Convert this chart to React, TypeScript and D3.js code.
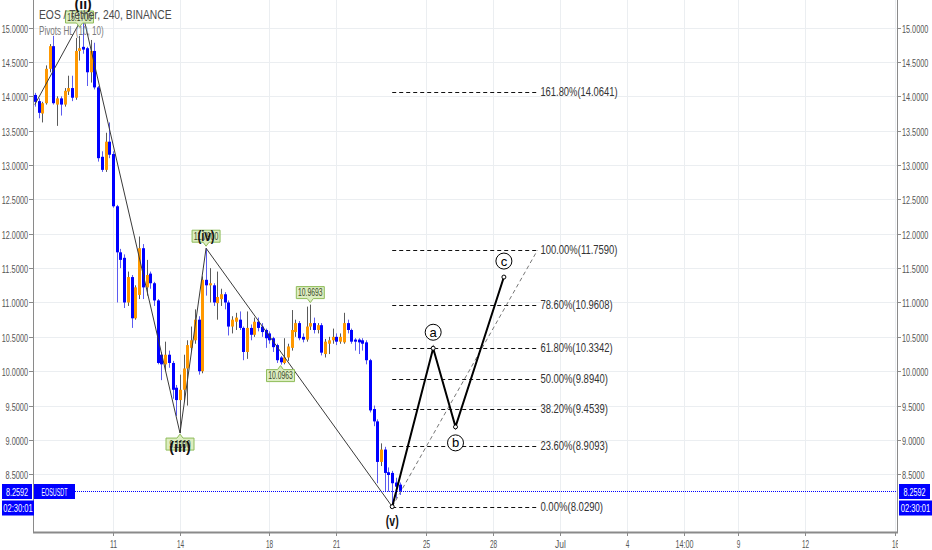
import React, { useRef, useEffect } from "react";
import * as d3 from "d3";

// 4h candles, first one opens 7 Jun 2018 12:00 UTC
const firstCandle = Date.UTC(2018, 5, 7, 12);
const candleMs = 4 * 3600 * 1000;

const opens = [
  14.02, 13.93, 13.75, 13.9, 14.4, 14.73, 13.88, 13.97, 13.88, 14.07,
  14.12, 13.98, 14.66, 14.72, 14.7, 14.35, 14.66, 14.13, 13.12, 12.93,
  13.34, 13.16, 12.4, 11.73, 11.65, 11.0, 11.37, 10.77, 11.11, 11.79,
  11.22, 11.42, 11.28, 11.03, 10.24, 10.1, 10.24, 10.12, 9.76, 9.58,
  9.73, 10.04, 10.34, 10.45, 10.75, 10.0, 11.33, 11.25, 11.25, 10.99,
  11.05, 11.12, 11.0, 10.65, 10.72, 10.75, 10.63, 10.28, 10.63, 10.53,
  10.72, 10.65, 10.6, 10.55, 10.48, 10.38, 10.2, 10.12, 10.2, 10.34,
  10.57, 10.7, 10.5, 10.46, 10.65, 10.7, 10.6, 10.67, 10.25, 10.4,
  10.45, 10.5, 10.43, 10.42, 10.7, 10.6, 10.46, 10.46, 10.45, 10.42,
  10.16, 9.45, 9.27, 8.68, 8.86, 8.53, 8.52, 8.38, 8.35,
];
const highs = [
  14.05, 13.97, 13.92, 14.45, 14.76, 14.88, 14.0, 14.0, 14.12, 14.3,
  14.3, 14.85, 14.88, 15.17, 14.72, 14.82, 14.78, 14.15, 13.2, 13.47,
  13.62, 13.2, 12.42, 11.78, 11.7, 11.45, 11.4, 11.25, 11.96, 11.85,
  11.62, 11.45, 11.3, 11.05, 10.28, 10.43, 10.3, 10.15, 9.8, 9.95,
  10.24, 10.45, 10.65, 10.9, 10.8, 11.38, 11.79, 11.5, 11.28, 11.45,
  11.2, 11.15, 11.03, 10.8, 10.85, 10.87, 10.65, 10.87, 10.68, 10.78,
  10.78, 10.7, 10.62, 10.58, 10.5, 10.4, 10.22, 10.48, 10.4, 10.89,
  10.75, 10.73, 10.55, 10.94, 10.9693, 10.78, 10.7, 10.7, 10.47, 10.5,
  10.62, 10.55, 10.55, 10.85, 10.75, 10.62, 10.48, 10.48, 10.48, 10.45,
  10.18, 9.5, 9.3, 8.95, 8.9, 8.6, 8.55, 8.45, 8.38,
];
const lows = [
  13.85, 13.68, 13.62, 13.88, 14.35, 13.88, 13.57, 13.72, 13.85, 14.02,
  13.93, 13.95, 14.52, 14.62, 14.15, 14.2, 14.1, 13.05, 12.9, 12.9,
  13.1, 12.38, 11.0, 11.5, 10.92, 10.95, 10.63, 10.75, 11.05, 11.05,
  11.1, 11.2, 10.95, 10.1, 9.87, 10.0, 10.05, 9.6, 9.35, 9.1,
  9.55, 9.5, 10.3, 10.4, 9.95, 9.97, 11.1, 11.0, 10.95, 10.75,
  10.95, 10.9, 10.52, 10.55, 10.6, 10.6, 10.16, 10.18, 10.45, 10.5,
  10.58, 10.5, 10.34, 10.4, 10.28, 10.12, 10.0963, 10.1, 10.15, 10.3,
  10.5, 10.45, 10.42, 10.43, 10.6, 10.55, 10.55, 10.23, 10.2, 10.25,
  10.4, 10.38, 10.4, 10.4, 10.55, 10.4, 10.3, 10.25, 10.3, 10.1,
  9.4, 9.2, 8.37, 8.62, 8.25, 8.25, 8.029, 8.15, 8.2,
];
const closes = [
  13.92, 13.76, 13.9, 14.4, 14.73, 13.9, 13.97, 13.88, 14.08, 14.12,
  13.98, 14.66, 14.7, 14.68, 14.35, 14.66, 14.13, 13.1, 12.93, 13.34,
  13.15, 12.4, 11.73, 11.62, 11.0, 11.37, 10.77, 11.22, 11.79, 11.22,
  11.4, 11.28, 11.03, 10.12, 10.1, 10.24, 10.12, 9.73, 9.58, 9.73,
  10.04, 10.38, 10.45, 10.75, 10.0, 11.33, 11.25, 11.28, 11.0, 11.08,
  11.12, 11.0, 10.65, 10.75, 10.78, 10.63, 10.28, 10.63, 10.53, 10.72,
  10.63, 10.57, 10.48, 10.45, 10.35, 10.16, 10.13, 10.2, 10.36, 10.6,
  10.7, 10.48, 10.46, 10.65, 10.7, 10.6, 10.67, 10.27, 10.43, 10.45,
  10.5, 10.43, 10.5, 10.7, 10.6, 10.43, 10.43, 10.42, 10.4, 10.16,
  9.43, 9.27, 8.68, 8.86, 8.52, 8.49, 8.37, 8.32, 8.2592,
];

const priceTicks = [8.5, 9, 9.5, 10, 10.5, 11, 11.5, 12, 12.5, 13, 13.5, 14, 14.5, 15];
const timeTickDates = [
  Date.UTC(2018, 5, 11), Date.UTC(2018, 5, 14), Date.UTC(2018, 5, 18),
  Date.UTC(2018, 5, 21), Date.UTC(2018, 5, 25), Date.UTC(2018, 5, 28),
  Date.UTC(2018, 6, 1), Date.UTC(2018, 6, 4), Date.UTC(2018, 6, 6, 14),
  Date.UTC(2018, 6, 9), Date.UTC(2018, 6, 12), Date.UTC(2018, 6, 16),
];
const timeTickLabels = ["11", "14", "18", "21", "25", "28", "Jul", "4", "14:00", "9", "12", "16"];

// Elliott wave pivots (candle index, price)
const waveIdx = [0, 13, 39, 46, 96];
const wavePrice = [13.88, 15.17, 9.1, 11.79, 8.029];
const waveLabels = ["", "(ii)", "(iii)", "(iv)", "(v)"];

// Pivots HL labels
const pivotIdx = [12, 39, 46, 66, 74];
const pivotPrice = [15.17, 9.1, 11.79, 10.0963, 10.9693];
const pivotText = ["15.1700", "9.1000", "11.7900", "10.0963", "10.9693"];
const pivotIsHigh = [true, false, true, false, true];

// Fibonacci levels
const fibStart = Date.UTC(2018, 5, 23, 12);
const fibEnd = Date.UTC(2018, 5, 30);
const fibRatios = ["0.00%", "23.60%", "38.20%", "50.00%", "61.80%", "78.60%", "100.00%", "161.80%"];
const fibPrices = [8.029, 8.9093, 9.4539, 9.894, 10.3342, 10.9608, 11.759, 14.0641];

// projected a-b-c
const abcTimes = [Date.UTC(2018, 5, 23, 12), Date.UTC(2018, 5, 25, 8), Date.UTC(2018, 5, 26, 8), Date.UTC(2018, 5, 28, 12)];
const abcPrices = [8.029, 10.3342, 9.19, 11.37];
const abcLabels = ["", "a", "b", "c"];

const lastPrice = 8.2592;
const symbol = "EOSUSDT";
const countdown = "02:30:01";

const UP = "#ff9800";
const DOWN = "#0000ff";
const W = 932;
const H = 550;
const left = 33;
const right = 897;
const bottom = 532;

// squeeze a text to a given width per character (the screenshot fonts are narrow)
function fit(sel: d3.Selection<SVGTextElement, unknown, null, undefined>, perChar: number) {
  const n = (sel.text() || "").length;
  return sel.attr("textLength", n * perChar).attr("lengthAdjust", "spacingAndGlyphs");
}

export default function App() {
  const svgRef = useRef<SVGSVGElement>(null);

  useEffect(() => {
    document.body.style.margin = "0";
    if (!svgRef.current) return;
    const svg = d3.select(svgRef.current);
    svg.selectAll("*").remove();
    svg.attr("width", W).attr("height", H);

    const x = d3.scaleUtc()
      .domain([Date.UTC(2018, 5, 11), Date.UTC(2018, 6, 16)])
      .range([113, 894.8]);
    const y = d3.scaleLinear().domain([8.5, 15]).range([474.3, 27.6]);

    const font = "'Liberation Sans', Arial, sans-serif";

    svg.append("rect").attr("width", W).attr("height", H).attr("fill", "#fff");

    svg.append("defs").append("clipPath").attr("id", "plot")
      .append("rect").attr("x", left).attr("y", 0).attr("width", right - left).attr("height", bottom);

    // grid
    const grid = svg.append("g").attr("clip-path", "url(#plot)");
    grid.selectAll(".hg").data(priceTicks).join("line")
      .attr("x1", left).attr("x2", right)
      .attr("y1", (d) => Math.round(y(d)) + 0.5).attr("y2", (d) => Math.round(y(d)) + 0.5)
      .attr("stroke", "#ebeef1");
    grid.selectAll(".vg").data(timeTickDates).join("line")
      .attr("x1", (d) => Math.round(x(d)) + 0.5).attr("x2", (d) => Math.round(x(d)) + 0.5)
      .attr("y1", 0).attr("y2", bottom)
      .attr("stroke", "#ebeef1");

    const plot = svg.append("g").attr("clip-path", "url(#plot)");

    // candles
    const idx = d3.range(opens.length);
    const tx = (i: number) => x(firstCandle + i * candleMs);
    plot.selectAll(".wick").data(idx).join("line")
      .attr("x1", (i) => Math.round(tx(i)) + 0.5).attr("x2", (i) => Math.round(tx(i)) + 0.5)
      .attr("y1", (i) => y(highs[i])).attr("y2", (i) => y(lows[i]))
      .attr("stroke", (i) => (closes[i] >= opens[i] ? "#5a5a5a" : "#5b5bf0"))
      .attr("stroke-width", 1);
    plot.selectAll(".body").data(idx).join("rect")
      .attr("x", (i) => Math.round(tx(i)) - 1)
      .attr("width", 3)
      .attr("y", (i) => y(Math.max(opens[i], closes[i])))
      .attr("height", (i) => Math.max(1, Math.abs(y(opens[i]) - y(closes[i]))))
      .attr("fill", (i) => (closes[i] >= opens[i] ? UP : DOWN));

    // elliott wave lines
    const wavePts = waveIdx.map((i, k) => [tx(i), y(wavePrice[k])] as [number, number]);
    plot.append("path")
      .attr("d", d3.line()(wavePts))
      .attr("fill", "none").attr("stroke", "#3a3a3a").attr("stroke-width", 1);

    // pivots HL labels
    pivotIdx.forEach((i, k) => {
      const cx = tx(i);
      const py = y(pivotPrice[k]);
      const hi = pivotIsHigh[k];
      const bw = 28, bh = 12;
      const top = hi ? Math.max(py - 6 - bh, 11) : py + 5;
      const tip = hi ? top + bh + 4 : py + 1;
      const g = plot.append("g");
      const poly = hi
        ? [[cx - bw / 2, top], [cx + bw / 2, top], [cx + bw / 2, top + bh], [cx + 3, top + bh], [cx, tip], [cx - 3, top + bh], [cx - bw / 2, top + bh]]
        : [[cx - bw / 2, top], [cx - 3, top], [cx, tip], [cx + 3, top], [cx + bw / 2, top], [cx + bw / 2, top + bh], [cx - bw / 2, top + bh]];
      g.append("path")
        .attr("d", "M" + poly.map((p) => p.join(",")).join("L") + "Z")
        .attr("fill", "#dcedc1").attr("stroke", "#8fbc5a").attr("stroke-width", 1);
      fit(g.append("text").attr("x", cx).attr("y", top + bh - 2.5)
        .attr("text-anchor", "middle").attr("font-family", font).attr("font-size", 10.5)
        .attr("fill", "#3a4a2a").text(pivotText[k]), 3.5);
    });

    // wave labels
    waveLabels.forEach((lab, k) => {
      if (!lab) return;
      const isHigh = k % 2 === 1;
      fit(plot.append("text")
        .attr("x", wavePts[k][0])
        .attr("y", isHigh ? wavePts[k][1] - 7 : wavePts[k][1] + 19)
        .attr("text-anchor", "middle").attr("font-family", font).attr("font-weight", "bold")
        .attr("font-size", 15).attr("fill", "#111").text(lab), 4.3);
    });

    // fib levels
    const fx1 = x(fibStart), fx2 = x(fibEnd);
    fibPrices.forEach((p, k) => {
      plot.append("line")
        .attr("x1", fx1).attr("x2", fx2)
        .attr("y1", Math.round(y(p)) + 0.5).attr("y2", Math.round(y(p)) + 0.5)
        .attr("stroke", "#111").attr("stroke-dasharray", "4,3");
      fit(plot.append("text").attr("x", fx2 + 3).attr("y", y(p) + 4)
        .attr("font-family", font).attr("font-size", 12).attr("fill", "#333")
        .text(`${fibRatios[k]}(${p.toFixed(4)})`), 4.82);
    });
    plot.append("line")
      .attr("x1", fx1).attr("y1", y(fibPrices[0]))
      .attr("x2", fx2).attr("y2", y(fibPrices[6]))
      .attr("stroke", "#777").attr("stroke-dasharray", "4,3");

    // abc projection
    const abcPts = abcTimes.map((t, k) => [x(t), y(abcPrices[k])] as [number, number]);
    plot.append("path").attr("d", d3.line()(abcPts))
      .attr("fill", "none").attr("stroke", "#000").attr("stroke-width", 2);
    plot.selectAll(".vtx").data(abcPts).join("circle")
      .attr("cx", (d) => d[0]).attr("cy", (d) => d[1]).attr("r", 2)
      .attr("fill", "#fff").attr("stroke", "#000");
    abcLabels.forEach((lab, k) => {
      if (!lab) return;
      const below = lab === "b";
      const cy = below ? abcPts[k][1] + 16 : abcPts[k][1] - 16;
      plot.append("circle").attr("cx", abcPts[k][0]).attr("cy", cy).attr("r", 8)
        .attr("fill", "#fff").attr("stroke", "#000");
      plot.append("text").attr("x", abcPts[k][0]).attr("y", cy + 4.5)
        .attr("text-anchor", "middle").attr("font-family", font).attr("font-size", 13)
        .attr("fill", "#000").text(lab);
    });

    // last price line
    const ly = Math.round(y(lastPrice)) + 0.5;
    svg.append("line").attr("x1", left).attr("x2", right).attr("y1", ly).attr("y2", ly)
      .attr("stroke", "#0000ff").attr("stroke-dasharray", "1,1");

    // axes frame
    svg.append("line").attr("x1", left + 0.5).attr("x2", left + 0.5).attr("y1", 0).attr("y2", bottom)
      .attr("stroke", "#8a8a8a");
    svg.append("line").attr("x1", right + 0.5).attr("x2", right + 0.5).attr("y1", 0).attr("y2", bottom)
      .attr("stroke", "#8a8a8a");
    svg.append("line").attr("x1", left).attr("x2", right + 1).attr("y1", bottom + 0.5).attr("y2", bottom + 0.5)
      .attr("stroke", "#8a8a8a").attr("stroke-width", 2);

    // y axis labels both sides
    const yl = svg.append("g");
    priceTicks.forEach((p) => {
      const yy = Math.round(y(p)) + 0.5;
      yl.append("line").attr("x1", left - 4).attr("x2", left).attr("y1", yy).attr("y2", yy).attr("stroke", "#8a8a8a");
      yl.append("line").attr("x1", right).attr("x2", right + 4).attr("y1", yy).attr("y2", yy).attr("stroke", "#8a8a8a");
      fit(yl.append("text").attr("x", left - 5).attr("y", yy + 4).attr("text-anchor", "end")
        .attr("font-family", font).attr("font-size", 11.5).attr("fill", "#555").text(p.toFixed(4)), 3.75);
      fit(yl.append("text").attr("x", right + 5).attr("y", yy + 4)
        .attr("font-family", font).attr("font-size", 11.5).attr("fill", "#555").text(p.toFixed(4)), 3.75);
    });

    // x axis labels
    svg.append("clipPath").attr("id", "xlab").append("rect")
      .attr("x", 0).attr("y", bottom).attr("width", right + 1).attr("height", H - bottom);
    const xl = svg.append("g").attr("clip-path", "url(#xlab)");
    timeTickDates.forEach((t, k) => {
      const xx = Math.round(x(t)) + 0.5;
      xl.append("line").attr("x1", xx).attr("x2", xx).attr("y1", bottom).attr("y2", bottom + 4).attr("stroke", "#8a8a8a");
      fit(xl.append("text").attr("x", xx).attr("y", bottom + 16).attr("text-anchor", "middle")
        .attr("font-family", font).attr("font-size", 11.5).attr("fill", "#555").text(timeTickLabels[k]), 3.6);
    });

    // price badges
    const badge = (bx: number, by: number, bw: number, txt: string) => {
      svg.append("rect").attr("x", bx).attr("y", by).attr("width", bw).attr("height", 15).attr("fill", "#0000ff");
      fit(svg.append("text").attr("x", bx + bw / 2).attr("y", by + 11.5).attr("text-anchor", "middle")
        .attr("font-family", font).attr("font-size", 11.5).attr("fill", "#fff").text(txt), 3.7);
    };
    badge(2, ly - 7.5, 30, lastPrice.toFixed(4));
    badge(34, ly - 7.5, 41, symbol);
    badge(2, ly + 9, 32, countdown);
    badge(899, ly - 7.5, 31, lastPrice.toFixed(4));
    badge(899, ly + 9, 33, countdown);

    // header
    fit(svg.append("text").attr("x", 39).attr("y", 19).attr("font-family", font).attr("font-size", 13)
      .attr("fill", "#4a4a4a").text("EOS / Tether, 240, BINANCE"), 5.1);
    fit(svg.append("text").attr("x", 39).attr("y", 35).attr("font-family", font).attr("font-size", 12.5)
      .attr("fill", "#7a7a7a").text("Pivots HL (10, 10)"), 3.6);
  }, []);

  return <svg ref={svgRef} style={{ display: "block" }}></svg>;
}
